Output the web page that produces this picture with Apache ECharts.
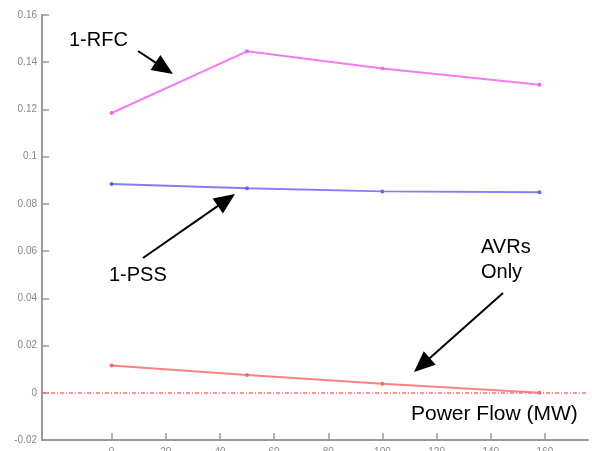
<!DOCTYPE html>
<html>
<head>
<meta charset="utf-8">
<script src="https://cdn.jsdelivr.net/npm/echarts@6/dist/echarts.min.js"></script>
<style>
  html, body { margin: 0; padding: 0; background: #fff; overflow: hidden; }
  #chart { width: 592px; height: 451px; }
</style>
</head>
<body>
<div id="chart"></div>
<script>
// Power flow (MW) operating points
var powerFlow = [0, 50, 100, 158];
// Damping results for each controller configuration
var rfcValues = [0.1185, 0.1446, 0.1373, 0.1305];
var pssValues = [0.0884, 0.0866, 0.0853, 0.0849];
var avrValues = [0.0116, 0.0075, 0.0038, 0.0000];
// Axis tick labels
var xTicks = [0, 20, 40, 60, 80, 100, 120, 140, 160];

function pairs(xs, ys) {
  return xs.map(function (x, i) { return [x, ys[i]]; });
}

// Annotation arrow: a shaft plus a filled triangular head at (x2, y2)
function arrow(x1, y1, x2, y2) {
  var dx = x2 - x1, dy = y2 - y1;
  var len = Math.sqrt(dx * dx + dy * dy);
  var ux = dx / len, uy = dy / len;
  var headLen = 21, headHalf = 9;
  var bx = x2 - ux * headLen, by = y2 - uy * headLen;
  return [
    {
      type: 'line', silent: true,
      shape: { x1: x1, y1: y1, x2: bx + ux * 2, y2: by + uy * 2 },
      style: { stroke: '#000', lineWidth: 2 }
    },
    {
      type: 'polygon', silent: true,
      shape: { points: [[x2, y2], [bx - uy * headHalf, by + ux * headHalf], [bx + uy * headHalf, by - ux * headHalf]] },
      style: { fill: '#000' }
    }
  ];
}

var font = '"Liberation Sans", Arial, sans-serif';

function label(text, x, y, size) {
  return {
    type: 'text', silent: true, left: x, top: y,
    style: { text: text, fill: '#000', font: size + 'px ' + font, verticalAlign: 'top' }
  };
}

var graphics = []
  .concat(arrow(138, 51, 173, 74))
  .concat(arrow(143, 258, 235, 194))
  .concat(arrow(503, 293, 414, 372))
  .concat([
    label('1-RFC', 69, 30, 20),
    label('1-PSS', 109, 265, 20),
    { type: 'text', silent: true, left: 481, top: 235,
      style: { text: 'AVRs\nOnly', fill: '#000', font: '20px ' + font, align: 'center', lineHeight: 25, width: 55 } },
    label('Power Flow (MW)', 411, 404, 21)
  ]);

var chart = echarts.init(document.getElementById('chart'), null, { renderer: 'canvas' });

var axisColor = '#999';

chart.setOption({
  animation: false,
  backgroundColor: '#fff',
  grid: { left: 42, right: 4, top: 15, bottom: 11, outerBoundsMode: 'none', containLabel: false },
  xAxis: {
    type: 'value',
    min: -25.7,
    max: 175.9,
    axisLine: { onZero: false, lineStyle: { color: axisColor, width: 2 } },
    axisTick: { inside: true, length: 7, customValues: xTicks, lineStyle: { color: axisColor, width: 1.5 } },
    axisLabel: { customValues: xTicks, margin: 7, color: '#888', fontSize: 10, fontFamily: font },
    splitLine: { show: false }
  },
  yAxis: {
    type: 'value',
    min: -0.02,
    max: 0.16,
    interval: 0.02,
    axisLine: { show: true, onZero: false, lineStyle: { color: axisColor, width: 2 } },
    axisTick: { show: true, inside: true, length: 7, lineStyle: { color: axisColor, width: 1.5 } },
    axisLabel: { margin: 5, color: '#888', fontSize: 10, fontFamily: font },
    splitLine: { show: false }
  },
  series: [
    {
      name: '1-RFC', type: 'line', data: pairs(powerFlow, rfcValues),
      symbol: 'circle', symbolSize: 4,
      lineStyle: { color: '#f27cf2', width: 2 },
      itemStyle: { color: '#ee66ee' }
    },
    {
      name: '1-PSS', type: 'line', data: pairs(powerFlow, pssValues),
      symbol: 'circle', symbolSize: 4,
      lineStyle: { color: '#8080f4', width: 2 },
      itemStyle: { color: '#6666ee' }
    },
    {
      name: 'AVRs Only', type: 'line', data: pairs(powerFlow, avrValues),
      symbol: 'circle', symbolSize: 4,
      lineStyle: { color: '#ff8080', width: 2 },
      itemStyle: { color: '#ff6666' },
      markLine: {
        silent: true, symbol: 'none', label: { show: false },
        lineStyle: { color: '#ff7070', width: 1.5, type: [4, 2, 1, 2] },
        data: [{ yAxis: 0 }]
      }
    }
  ],
  graphic: graphics
});
</script>
</body>
</html>
